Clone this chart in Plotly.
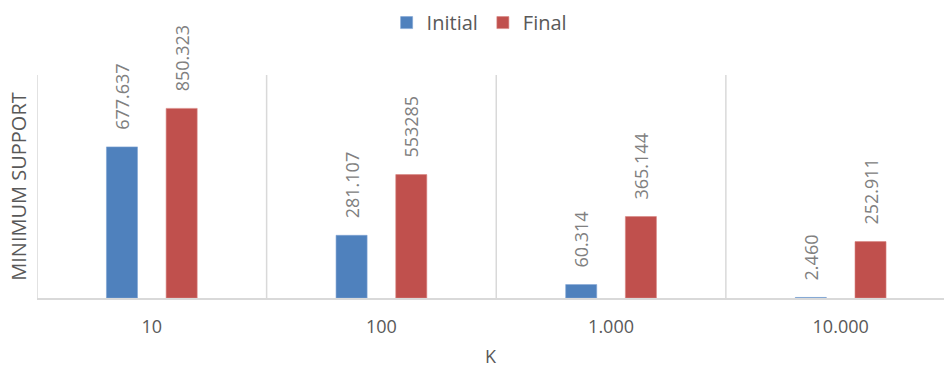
import plotly.graph_objects as go

# Minimum support per K, initial vs final
categories = ["10", "100", "1.000", "10.000"]
initial_values = [677637, 281107, 60314, 2460]
final_values = [850323, 553285, 365144, 252911]
initial_labels = ["677.637", "281.107", "60.314", "2.460"]
final_labels = ["850.323", "553285", "365.144", "252.911"]

FONT = "Open Sans"
LABEL_GRAY = "#808080"
AXIS_GRAY = "#595959"
GRID = "#d9d9d9"
PAD = "\u00a0\u00a0\u00a0"  # lifts the rotated value labels clear of the bar tops


def padded(labels):
    return [PAD + s for s in labels]


fig = go.Figure()
fig.add_trace(go.Bar(
    name="Initial", x=categories, y=initial_values,
    text=padded(initial_labels), textposition="outside", textangle=-90,
    constraintext="none",
    textfont=dict(family=FONT, size=18, color=LABEL_GRAY),
    marker=dict(color="#4F81BD", line=dict(color="#7ea3d4", width=0.6)),
    cliponaxis=False,
))
fig.add_trace(go.Bar(
    name="Final", x=categories, y=final_values,
    text=padded(final_labels), textposition="outside", textangle=-90,
    constraintext="none",
    textfont=dict(family=FONT, size=18, color=LABEL_GRAY),
    marker=dict(color="#C0504D", line=dict(color="#d98481", width=0.6)),
    cliponaxis=False,
))

fig.update_layout(
    width=944, height=368,
    margin=dict(l=37, r=0, t=75, b=70),
    paper_bgcolor="white", plot_bgcolor="white",
    barmode="group", bargap=0.48, bargroupgap=0.48,
    font=dict(family=FONT, color=AXIS_GRAY),
    legend=dict(
        orientation="h", x=0.488, xanchor="center", y=1.235, yanchor="middle",
        font=dict(family=FONT, size=20, color=AXIS_GRAY),
        itemwidth=30, traceorder="normal",
    ),
)

fig.update_xaxes(
    type="category", range=[-0.5, 3.45],
    showgrid=False, showline=True, linecolor=GRID, linewidth=1.5,
    tickfont=dict(family=FONT, size=18, color=AXIS_GRAY),
    ticklabelstandoff=12,
    title=dict(text="K", font=dict(family=FONT, size=18, color=AXIS_GRAY), standoff=14),
)
fig.update_yaxes(
    range=[0, 1000000], showticklabels=False, showgrid=False, zeroline=False,
    title=dict(text="MINIMUM SUPPORT", font=dict(family=FONT, size=20, color=AXIS_GRAY), standoff=4),
)

# Vertical separators between K groups
for xpos in [-0.5, 0.5, 1.5, 2.5, 3.5]:
    fig.add_shape(type="line", xref="x", yref="paper", x0=xpos, x1=xpos, y0=0, y1=1,
                  line=dict(color=GRID, width=1.5), layer="below")

fig.write_html("out.html")
